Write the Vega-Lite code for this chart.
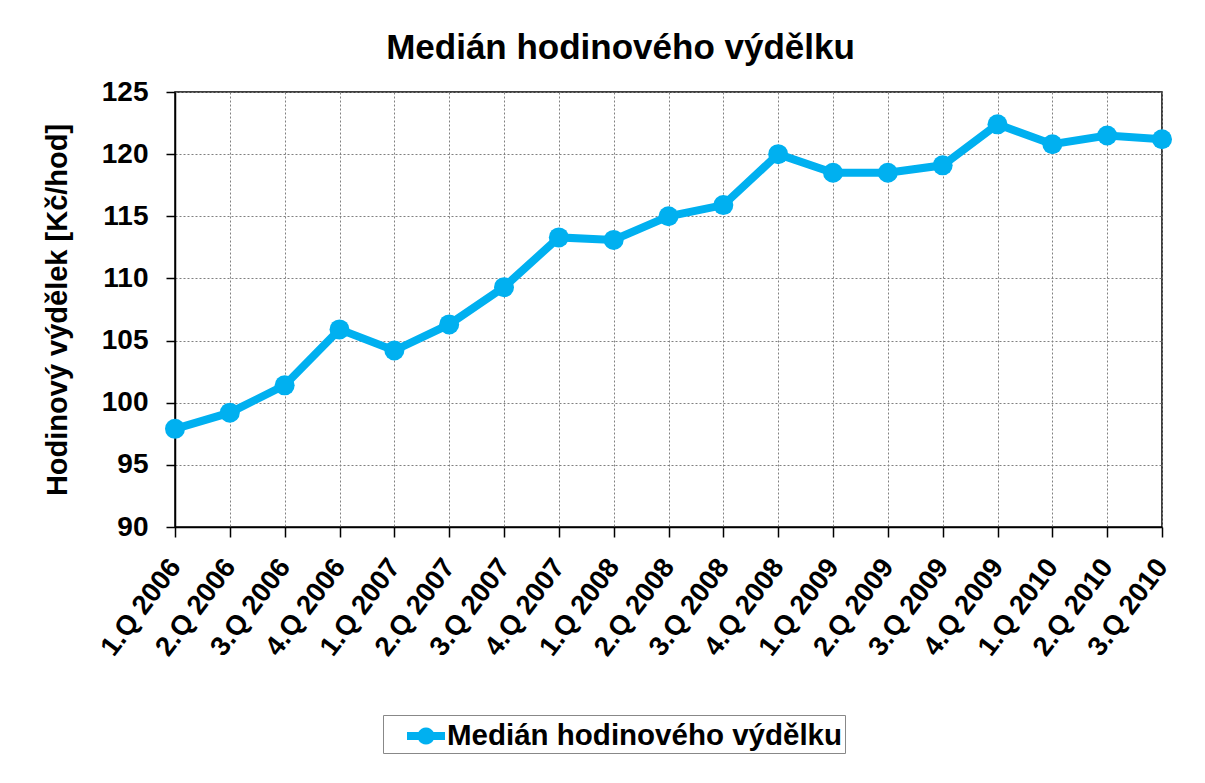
{
  "$schema": "https://vega.github.io/schema/vega-lite/v6.json",
  "autosize": "none",
  "width": 987,
  "height": 435,
  "padding": {"left": 175, "top": 92, "right": 43, "bottom": 256},
  "background": "white",
  "title": {
    "text": "Medián hodinového výdělku",
    "font": "Liberation Sans",
    "fontSize": 35,
    "fontWeight": "bold",
    "color": "black",
    "anchor": "middle",
    "frame": "group",
    "dx": -48,
    "baseline": "alphabetic",
    "offset": -16
  },
  "data": {
    "values": [
      {"q": "1.Q 2006", "v": 97.9, "s": "Medián hodinového výdělku"},
      {"q": "2.Q 2006", "v": 99.2, "s": "Medián hodinového výdělku"},
      {"q": "3.Q 2006", "v": 101.4, "s": "Medián hodinového výdělku"},
      {"q": "4.Q 2006", "v": 105.9, "s": "Medián hodinového výdělku"},
      {"q": "1.Q 2007", "v": 104.2, "s": "Medián hodinového výdělku"},
      {"q": "2.Q 2007", "v": 106.3, "s": "Medián hodinového výdělku"},
      {"q": "3.Q 2007", "v": 109.3, "s": "Medián hodinového výdělku"},
      {"q": "4.Q 2007", "v": 113.3, "s": "Medián hodinového výdělku"},
      {"q": "1.Q 2008", "v": 113.1, "s": "Medián hodinového výdělku"},
      {"q": "2.Q 2008", "v": 115.0, "s": "Medián hodinového výdělku"},
      {"q": "3.Q 2008", "v": 115.9, "s": "Medián hodinového výdělku"},
      {"q": "4.Q 2008", "v": 120.0, "s": "Medián hodinového výdělku"},
      {"q": "1.Q 2009", "v": 118.5, "s": "Medián hodinového výdělku"},
      {"q": "2.Q 2009", "v": 118.5, "s": "Medián hodinového výdělku"},
      {"q": "3.Q 2009", "v": 119.1, "s": "Medián hodinového výdělku"},
      {"q": "4.Q 2009", "v": 122.4, "s": "Medián hodinového výdělku"},
      {"q": "1.Q 2010", "v": 120.8, "s": "Medián hodinového výdělku"},
      {"q": "2.Q 2010", "v": 121.5, "s": "Medián hodinového výdělku"},
      {"q": "3.Q 2010", "v": 121.2, "s": "Medián hodinového výdělku"}
    ]
  },
  "mark": {
    "type": "line",
    "strokeWidth": 8,
    "point": {"filled": true, "size": 400, "opacity": 1}
  },
  "encoding": {
    "x": {
      "field": "q",
      "type": "ordinal",
      "sort": null,
      "scale": {"type": "point", "padding": 0},
      "axis": {
        "title": null,
        "labelAngle": -53,
        "labelAlign": "right",
        "labelBaseline": "middle",
        "labelPadding": 25,
        "tickSize": 10,
        "labelFontSize": 27.5,
        "labelFontWeight": "bold",
        "grid": true
      }
    },
    "y": {
      "field": "v",
      "type": "quantitative",
      "scale": {"domain": [90, 125], "nice": false, "zero": false},
      "axis": {
        "title": "Hodinový výdělek [Kč/hod]",
        "values": [90, 95, 100, 105, 110, 115, 120, 125],
        "tickSize": 9,
        "labelPadding": 18,
        "labelFontSize": 28,
        "labelFontWeight": "bold",
        "titleFontSize": 29,
        "titleFontWeight": "bold",
        "titlePadding": 29,
        "grid": true
      }
    },
    "color": {
      "field": "s",
      "type": "nominal",
      "scale": {"range": ["#00B0F0"]},
      "legend": {
        "title": null,
        "orient": "none",
        "legendX": 208,
        "legendY": 623,
        "padding": 2,
        "strokeColor": "#888888",
        "symbolOffset": 22,
        "symbolSize": 1444,
        "symbolType": "M-1,-0.21L-0.398,-0.21A0.45,0.45,0,0,1,0.398,-0.21L1,-0.21L1,0.21L0.398,0.21A0.45,0.45,0,0,1,-0.398,0.21L-1,0.21Z",
        "labelFontSize": 29.5,
        "labelFontWeight": "bold",
        "labelOffset": 2,
        "labelLimit": 700,
        "labelExpr": "datum.label + '\u2003'",
        "encode": {
          "symbols": {"update": {"fill": {"value": "#00B0F0"}, "strokeWidth": {"value": 0}, "opacity": {"value": 1}}}
        }
      }
    }
  },
  "config": {
    "font": "Liberation Sans",
    "view": {"stroke": "black", "strokeWidth": 1.5},
    "axis": {
      "domainColor": "black",
      "domainWidth": 1.5,
      "tickColor": "black",
      "tickWidth": 1.5,
      "labelColor": "black",
      "titleColor": "black",
      "gridColor": "#808080",
      "gridDash": [2, 2],
      "gridWidth": 1,
      "labelFont": "Liberation Sans",
      "titleFont": "Liberation Sans"
    },
    "legend": {"labelColor": "black", "labelFont": "Liberation Sans"}
  }
}
